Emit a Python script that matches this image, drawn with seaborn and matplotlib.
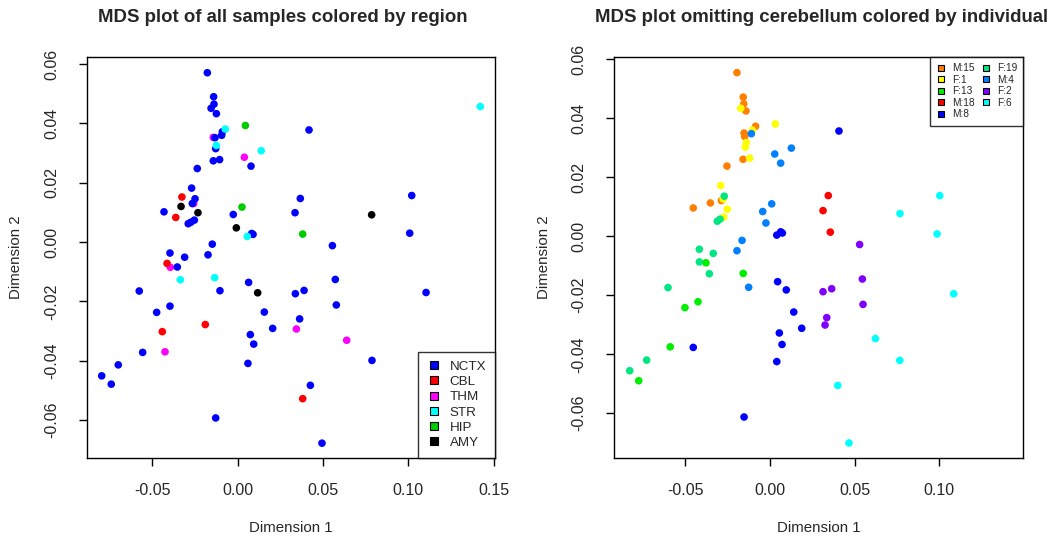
import numpy as np
import pandas as pd
import matplotlib
matplotlib.use("Agg")
import matplotlib.pyplot as plt
import seaborn as sns
from matplotlib.lines import Line2D

# ---------------- data: left panel (by region) ----------------
regions = ["NCTX", "CBL", "THM", "STR", "HIP", "AMY"]
region_colors = ["#0000FF", "#FF0000", "#FF00FF", "#00FFFF", "#00CD00", "#000000"]

nctx_x = [-0.0178, -0.0141, -0.0139, -0.0156, -0.0125, -0.0090, -0.0094, -0.0133, -0.0129, -0.0143,
          -0.0106, 0.0078, -0.0237, -0.0270, -0.0250, -0.0266, -0.0432, -0.0026, -0.0290, -0.0274,
          -0.0254, 0.0082, 0.0090, -0.0149, -0.0397, -0.0311, -0.0174, -0.0354, -0.0577, -0.0104,
          0.0064, -0.0397, -0.0475, 0.0156, 0.0205, 0.0074, 0.0094, -0.0557, -0.0700, 0.0060,
          -0.0797, -0.0741, -0.0129, 0.0418, 0.0367, 0.1020, 0.0336, 0.1008, 0.0555, 0.0572,
          0.0338, 0.0389, 0.0578, 0.1104, 0.0363, 0.0787, 0.0426, 0.0494]
nctx_y = [0.0571, 0.0490, 0.0465, 0.0451, 0.0433, 0.0372, 0.0360, 0.0352, 0.0315, 0.0274,
          0.0278, 0.0256, 0.0248, 0.0182, 0.0146, 0.0130, 0.0102, 0.0093, 0.0062, 0.0067,
          0.0074, 0.0029, 0.0026, -0.0007, -0.0037, -0.0051, -0.0043, -0.0084, -0.0165, -0.0164,
          -0.0136, -0.0216, -0.0237, -0.0236, -0.0291, -0.0312, -0.0344, -0.0372, -0.0414, -0.0409,
          -0.0451, -0.0479, -0.0593, 0.0378, 0.0147, 0.0157, 0.0099, 0.0030, -0.0012, -0.0126,
          -0.0174, -0.0163, -0.0212, -0.0170, -0.0259, -0.0399, -0.0483, -0.0678]
cbl_x = [-0.0327, -0.0363, -0.0414, -0.0190, -0.0442, 0.0381]
cbl_y = [0.0152, 0.0083, -0.0072, -0.0278, -0.0302, -0.0528]
thm_x = [-0.0143, 0.0039, -0.0258, -0.0395, -0.0426, 0.0344, 0.0639]
thm_y = [0.0353, 0.0286, 0.0130, -0.0085, -0.0370, -0.0293, -0.0331]
str_x = [-0.0073, -0.0125, 0.0138, 0.0056, -0.0336, -0.0135, 0.1422]
str_y = [0.0381, 0.0326, 0.0308, 0.0019, -0.0127, -0.0120, 0.0457]
hip_x = [0.0045, 0.0025, 0.0381]
hip_y = [0.0393, 0.0118, 0.0027]
amy_x = [-0.0332, -0.0233, -0.0008, 0.0117, 0.0785]
amy_y = [0.0120, 0.0099, 0.0048, -0.0171, 0.0092]

# ---------------- data: right panel (by individual) ----------------
individuals = ["M:15", "F:1", "F:13", "M:18", "M:8", "F:19", "M:4", "F:2", "F:6"]
indiv_colors = ["#FF8000", "#FFFF00", "#00EE00", "#FF0000", "#0000FF",
                "#00E681", "#0080FF", "#8000FF", "#00FFFF"]

m15_x = [-0.0195, -0.0158, -0.0155, -0.0142, -0.0085, -0.0153, -0.0149, -0.0159, -0.0254, -0.0287, -0.0453, -0.0352]
m15_y = [0.0555, 0.0472, 0.0449, 0.0425, 0.0373, 0.0350, 0.0338, 0.0261, 0.0238, 0.0121, 0.0096, 0.0113]
f1_x = [-0.0173, -0.0104, 0.0031, -0.0140, -0.0146, -0.0120, -0.0291, -0.0276, -0.0252, -0.0273]
f1_y = [0.0434, 0.0360, 0.0381, 0.0318, 0.0302, 0.0265, 0.0172, 0.0126, 0.0092, 0.0065]
f19_x = [-0.0270, -0.0311, -0.0295, -0.0417, -0.0335, -0.0417, -0.0358, -0.0602, -0.0728, -0.0828]
f19_y = [0.0136, 0.0051, 0.0058, -0.0044, -0.0058, -0.0087, -0.0127, -0.0174, -0.0420, -0.0456]
f13_x = [-0.0378, -0.0158, -0.0502, -0.0425, -0.0589, -0.0775]
f13_y = [-0.0090, -0.0126, -0.0242, -0.0222, -0.0375, -0.0490]
m4_x = [-0.0110, 0.0028, 0.0126, 0.0063, 0.0010, -0.0043, -0.0024, -0.0165, -0.0195, -0.0126]
m4_y = [0.0348, 0.0279, 0.0299, 0.0248, 0.0110, 0.0084, 0.0045, -0.0014, -0.0049, -0.0173]
m8_x = [0.0040, 0.0063, 0.0073, 0.0045, 0.0096, 0.0140, 0.0055, 0.0071, -0.0453, 0.0040, -0.0153, 0.0187, 0.0407]
m8_y = [0.0004, 0.0015, 0.0011, -0.0154, -0.0182, -0.0257, -0.0328, -0.0367, -0.0377, -0.0425, -0.0613, -0.0312, 0.0357]
m18_x = [0.0344, 0.0313, 0.0356]
m18_y = [0.0138, 0.0087, 0.0014]
f6_x = [0.1002, 0.0767, 0.0986, 0.1084, 0.0622, 0.0766, 0.0400, 0.0466]
f6_y = [0.0138, 0.0077, 0.0008, -0.0195, -0.0347, -0.0421, -0.0506, -0.0701]
f2_x = [0.0529, 0.0545, 0.0313, 0.0364, 0.0549, 0.0335, 0.0325]
f2_y = [-0.0028, -0.0145, -0.0188, -0.0178, -0.0231, -0.0276, -0.0301]

left_ticks_x = [-0.05, 0.00, 0.05, 0.10, 0.15]
right_ticks_x = [-0.05, 0.00, 0.05, 0.10]
ticks_y = [-0.06, -0.04, -0.02, 0.00, 0.02, 0.04, 0.06]

# ---------------- build frames ----------------
def frame(groups):
    parts = []
    for name, xs, ys in groups:
        parts.append(pd.DataFrame({"x": xs, "y": ys, "group": name}))
    return pd.concat(parts, ignore_index=True)

df_left = frame([("THM", thm_x, thm_y), ("NCTX", nctx_x, nctx_y), ("CBL", cbl_x, cbl_y),
                 ("STR", str_x, str_y), ("HIP", hip_x, hip_y), ("AMY", amy_x, amy_y)])
df_right = frame([("M:15", m15_x, m15_y), ("F:1", f1_x, f1_y), ("F:19", f19_x, f19_y),
                  ("F:13", f13_x, f13_y), ("M:4", m4_x, m4_y), ("M:8", m8_x, m8_y),
                  ("M:18", m18_x, m18_y), ("F:6", f6_x, f6_y), ("F:2", f2_x, f2_y)])

# ---------------- style ----------------
sns.set_style("white")
plt.rcParams["font.family"] = ["Liberation Sans", "DejaVu Sans"]
plt.rcParams["axes.unicode_minus"] = False

W, H = 1055, 536
fig = plt.figure(figsize=(W / 100, H / 100), dpi=100)

def px_axes(l, r, t, b):
    return fig.add_axes([l / W, 1 - b / H, (r - l) / W, (b - t) / H])

ax1 = px_axes(86.7, 495.0, 57.3, 457.7)
ax2 = px_axes(614.3, 1023.3, 57.3, 457.7)

def style_axes(ax, xticks, xlim, ylim, title, title_x):
    ax.set_xlim(*xlim)
    ax.set_ylim(*ylim)
    ax.set_xticks(xticks)
    ax.set_xticklabels([f"{v:.2f}" for v in xticks], fontsize=11.5)
    ax.set_yticks(ticks_y)
    ax.set_yticklabels([f"{v:.2f}" for v in ticks_y], fontsize=11.5, rotation=90, va="center")
    ax.tick_params(axis="x", direction="out", length=6, width=1, color="black",
                   bottom=True, pad=12)
    ax.tick_params(axis="y", direction="out", length=6, width=1, color="black",
                   left=True, pad=14)
    for s in ax.spines.values():
        s.set_visible(True)
        s.set_color("black")
        s.set_linewidth(1.0)
    ax.set_xlabel("Dimension 1", fontsize=10.8, labelpad=17)
    ax.set_ylabel("Dimension 2", fontsize=10.8, labelpad=15)
    fig.text(title_x / W, 1 - 18 / H, title, ha="center", va="center",
             fontsize=13.4, fontweight="bold")

sns.scatterplot(data=df_left, x="x", y="y", hue="group", hue_order=regions,
                palette=dict(zip(regions, region_colors)), s=30, linewidth=0,
                legend=False, ax=ax1)
style_axes(ax1, left_ticks_x, (-0.0885, 0.1508), (-0.0727, 0.0623),
           "MDS plot of all samples colored by region", 283)

sns.scatterplot(data=df_right, x="x", y="y", hue="group", hue_order=individuals,
                palette=dict(zip(individuals, indiv_colors)), s=30, linewidth=0,
                legend=False, ax=ax2)
style_axes(ax2, right_ticks_x, (-0.0919, 0.1495), (-0.0751, 0.0607),
           "MDS plot omitting cerebellum colored by individual", 822)

def handles(colors, ms):
    return [Line2D([], [], marker="s", linestyle="", markerfacecolor=c,
                   markeredgecolor="black", markeredgewidth=0.8, markersize=ms) for c in colors]

leg1 = ax1.legend(handles(region_colors, 6), regions, loc="lower right", fontsize=9.6,
                  frameon=True, fancybox=False, borderaxespad=0, labelspacing=0.22,
                  handletextpad=0.6, borderpad=0.65, handlelength=1.1)
leg1.get_frame().set_edgecolor("black")
leg1.get_frame().set_linewidth(1.0)

leg2 = ax2.legend(handles(indiv_colors, 4.5), individuals, loc="upper right", ncol=2,
                  fontsize=7.3, frameon=True, fancybox=False, borderaxespad=0,
                  labelspacing=0.15, handletextpad=0.5, borderpad=0.6, handlelength=1.1,
                  columnspacing=0.6)
leg2.get_frame().set_edgecolor("black")
leg2.get_frame().set_linewidth(1.0)

fig.savefig("out.png", dpi=100, facecolor="white")
